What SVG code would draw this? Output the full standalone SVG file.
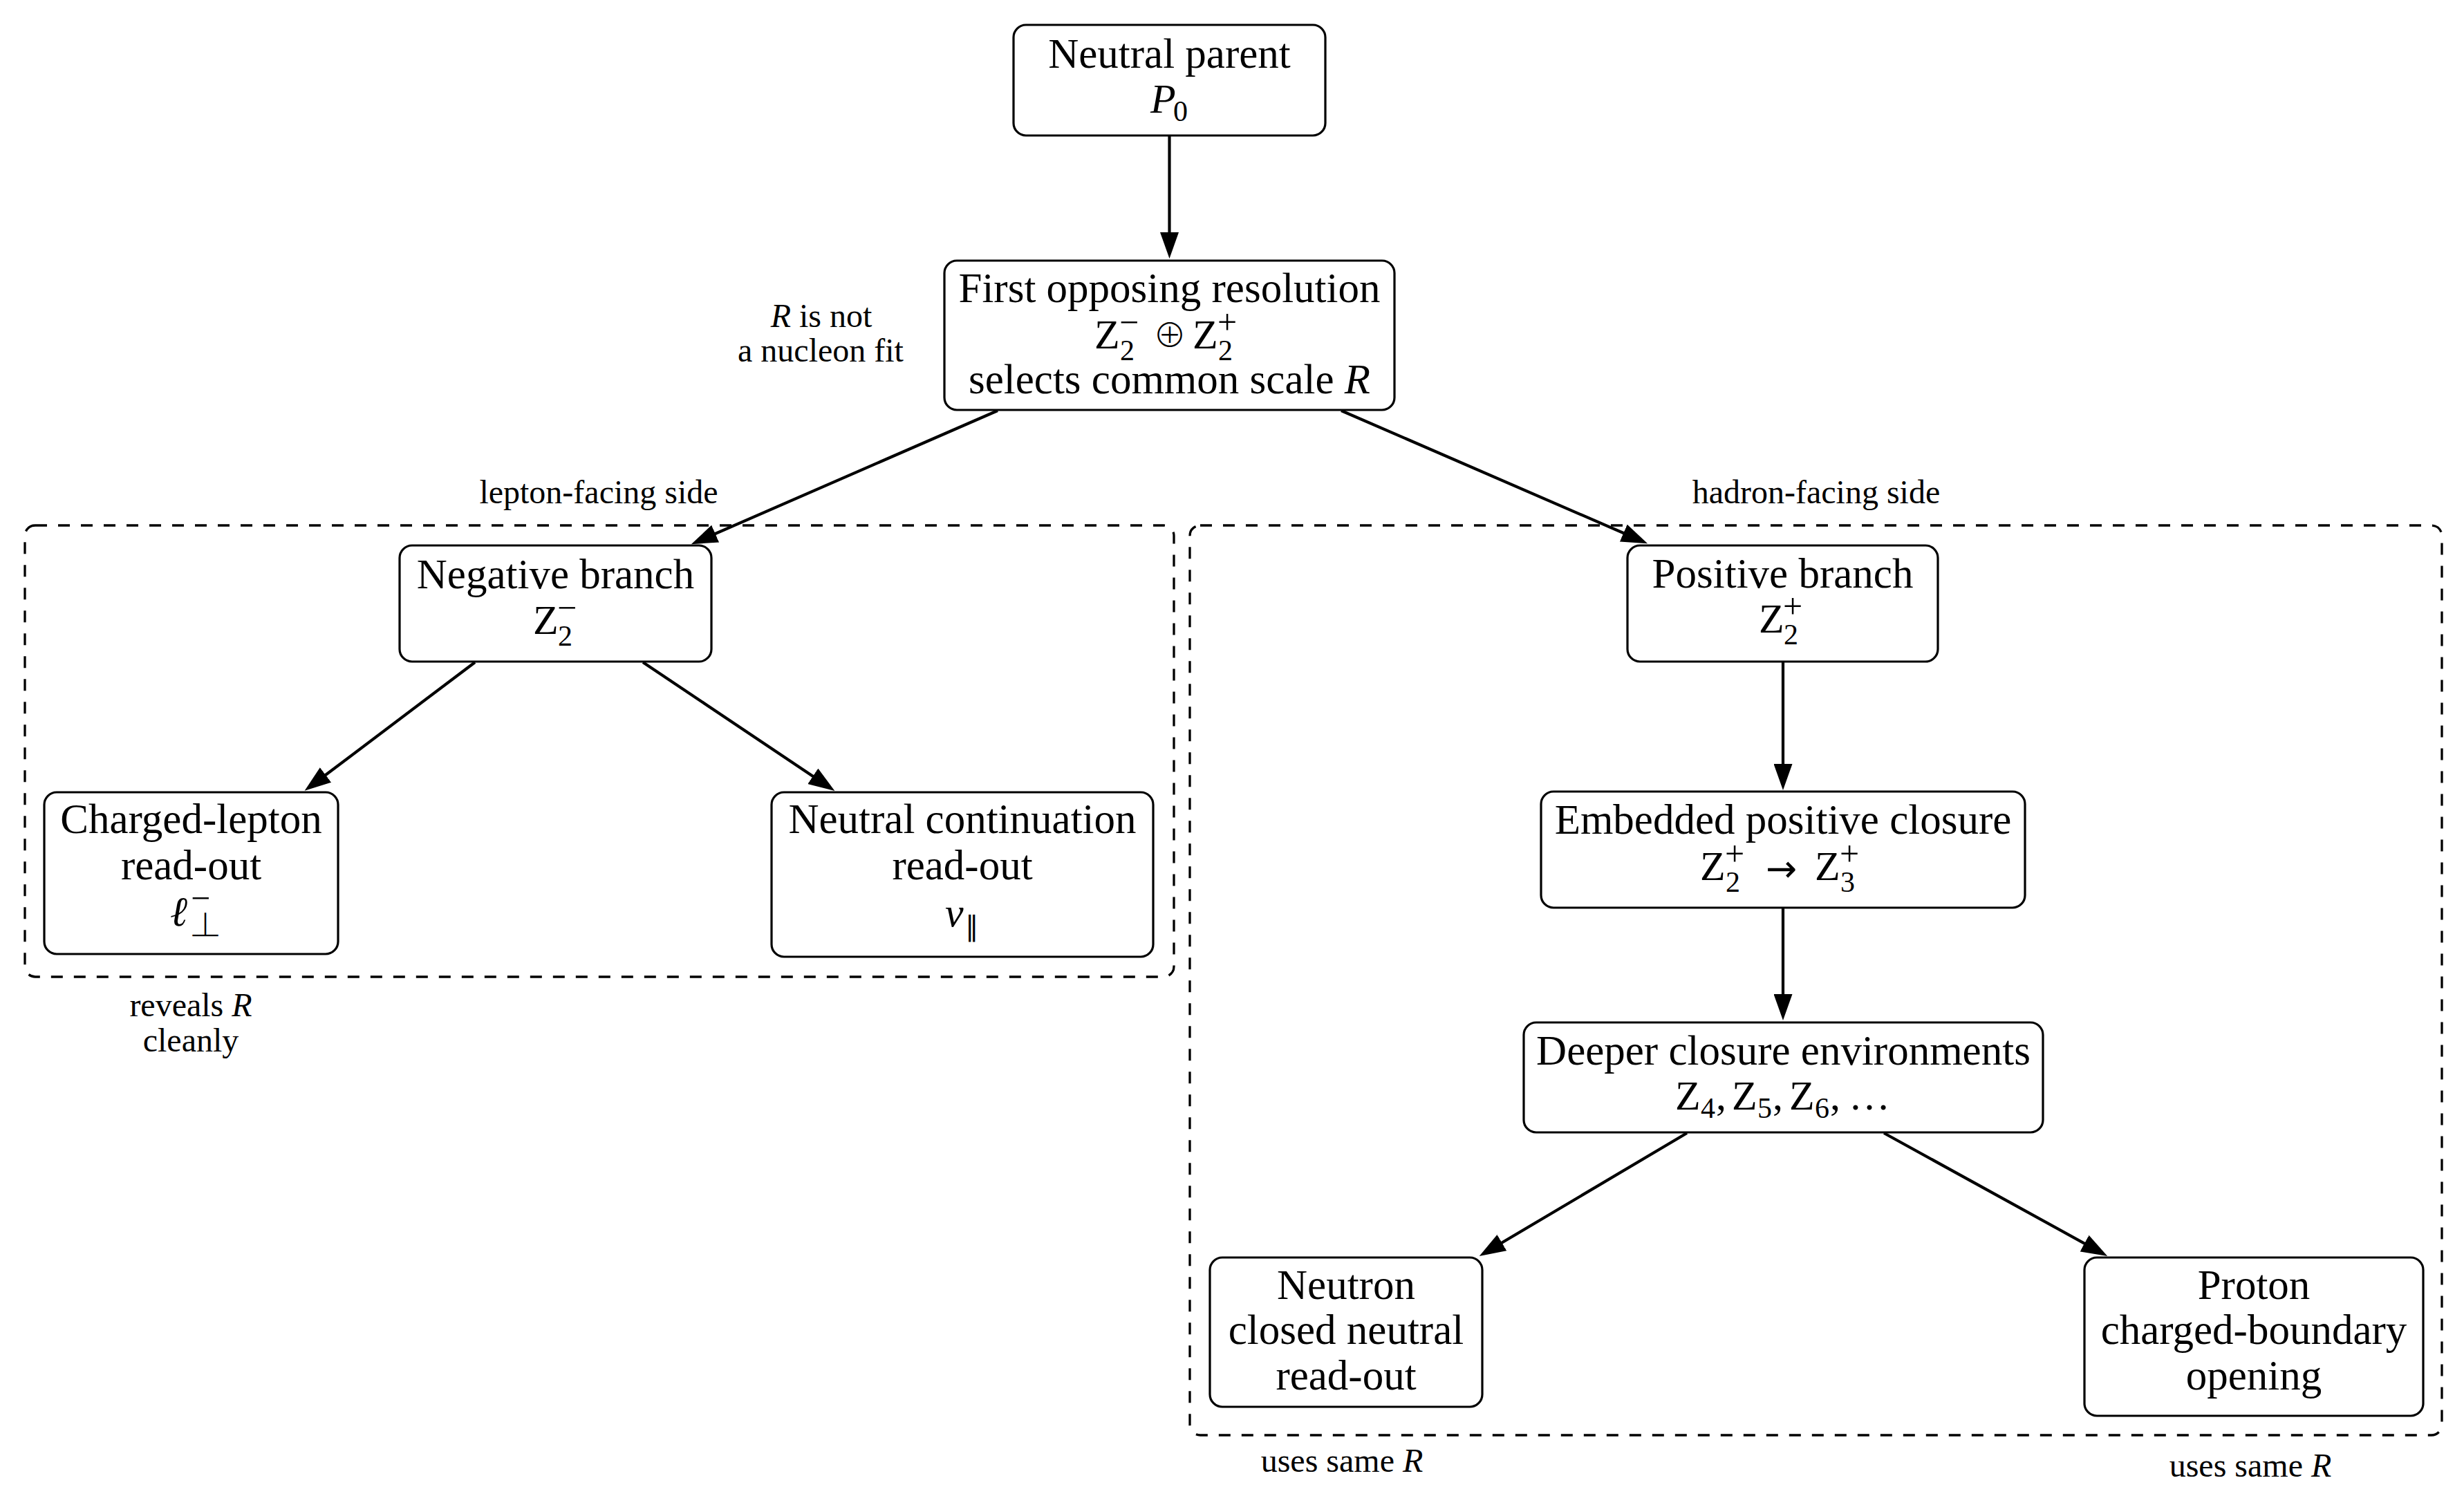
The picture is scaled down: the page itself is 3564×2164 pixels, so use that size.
<svg xmlns="http://www.w3.org/2000/svg" width="3564" height="2164" viewBox="0 0 3564 2164">
<style>
  text { font-family: "Liberation Serif", "DejaVu Serif", serif; fill: #000; }
  .t { font-size: 61px; text-anchor: middle; }
  .m { font-size: 60px; }
  .s { font-size: 42px; }
  .p { font-size: 50px; }
  .ss { font-size: 38px; }
  .op { font-family: "Noto Sans CJK SC", "DejaVu Sans", sans-serif; font-weight: 300; font-size: 48px; }
  .par { font-family: "DejaVu Sans", sans-serif; font-size: 40px; }
  .ar { font-family: "DejaVu Sans", sans-serif; font-size: 54px; }
  .it { font-style: italic; }
  .a { font-size: 48px; text-anchor: middle; }
  .box { fill: #fff; stroke: #000; stroke-width: 3.2; }
  .grp { fill: none; stroke: #000; stroke-width: 3.3; stroke-dasharray: 17 16; }
  .edge { fill: none; stroke: #000; stroke-width: 4.2; marker-end: url(#arr); }
</style>
<defs>
  <marker id="arr" markerUnits="userSpaceOnUse" viewBox="0 0 38 27" markerWidth="38" markerHeight="27" refX="20" refY="13.5" orient="auto">
    <path d="M0,0 L38,13.5 L0,27 Z" fill="#000"/>
  </marker>
</defs>
<rect x="0" y="0" width="3564" height="2164" fill="#fff"/>

<g id="group-lepton">
  <rect class="grp" x="36" y="760" width="1662" height="653" rx="15"/>
</g>
<g id="group-hadron">
  <rect class="grp" x="1721" y="760" width="1811" height="1316" rx="15"/>
</g>

<g id="connectors">
  <path class="edge" d="M1691.5,196 L1691.5,356"/>
  <path class="edge" d="M1443,594 L1016.3,780"/>
  <path class="edge" d="M1940,594 L2366.6,779"/>
  <path class="edge" d="M687,958 L455,1133"/>
  <path class="edge" d="M930,958 L1192.4,1133.9"/>
  <path class="edge" d="M2579,957 L2579,1125"/>
  <path class="edge" d="M2579,1313 L2579,1458"/>
  <path class="edge" d="M2440,1639 L2155.2,1807.8"/>
  <path class="edge" d="M2725,1639 L3032.5,1808.3"/>
</g>

<g id="node-neutral-parent">
  <rect class="box" x="1466" y="36" width="451" height="160" rx="18"/>
  <text class="t" x="1691.5" y="98">Neutral parent</text>
  <text class="m"><tspan class="it" x="1664" y="163">P</tspan><tspan class="s" x="1697" y="175">0</tspan></text>
</g>

<g id="node-first-resolution">
  <rect class="box" x="1366" y="377" width="651" height="216" rx="18"/>
  <text class="t" x="1691.5" y="437">First opposing resolution</text>
  <text class="m"><tspan x="1583" y="504">Z</tspan><tspan class="s" x="1620" y="521">2</tspan><tspan class="p" x="1619" y="483">−</tspan><tspan class="op" x="1668" y="502">⊕</tspan><tspan x="1725" y="504">Z</tspan><tspan class="s" x="1762" y="521">2</tspan><tspan class="p" x="1761" y="483">+</tspan></text>
  <text class="t" x="1691.5" y="569">selects common scale <tspan class="it">R</tspan></text>
</g>

<g id="node-negative-branch">
  <rect class="box" x="578" y="789" width="451" height="168" rx="18"/>
  <text class="t" x="803.5" y="851">Negative branch</text>
  <text class="m"><tspan x="771" y="917">Z</tspan><tspan class="s" x="807" y="934">2</tspan><tspan class="p" x="806" y="896">−</tspan></text>
</g>

<g id="node-charged-lepton">
  <rect class="box" x="64" y="1146" width="425" height="234" rx="18"/>
  <text class="t" x="276.5" y="1205">Charged-lepton</text>
  <text class="t" x="276.5" y="1272">read-out</text>
  <text class="m"><tspan class="it" x="246" y="1339">ℓ</tspan><tspan class="ss op" x="273" y="1356">⊥</tspan><tspan class="p" x="276" y="1316">−</tspan></text>
</g>

<g id="node-neutral-continuation">
  <rect class="box" x="1116" y="1146" width="552" height="238" rx="18"/>
  <text class="t" x="1392" y="1205">Neutral continuation</text>
  <text class="t" x="1392" y="1272">read-out</text>
  <text class="m"><tspan class="it" x="1367" y="1340">ν</tspan><tspan class="par" x="1396" y="1354">∥</tspan></text>
</g>

<g id="node-positive-branch">
  <rect class="box" x="2354" y="789" width="449" height="168" rx="18"/>
  <text class="t" x="2578.5" y="850">Positive branch</text>
  <text class="m"><tspan x="2544" y="915">Z</tspan><tspan class="s" x="2580" y="932">2</tspan><tspan class="p" x="2579" y="894">+</tspan></text>
</g>

<g id="node-embedded-closure">
  <rect class="box" x="2229" y="1145" width="700" height="168" rx="18"/>
  <text class="t" x="2579" y="1206">Embedded positive closure</text>
  <text class="m"><tspan x="2459" y="1273">Z</tspan><tspan class="s" x="2496" y="1290">2</tspan><tspan class="p" x="2495" y="1252">+</tspan><tspan class="ar" x="2554" y="1275">→</tspan><tspan x="2625" y="1273">Z</tspan><tspan class="s" x="2662" y="1290">3</tspan><tspan class="p" x="2661" y="1252">+</tspan></text>
</g>

<g id="node-deeper-closure">
  <rect class="box" x="2204" y="1479" width="751" height="159" rx="18"/>
  <text class="t" x="2579.5" y="1540">Deeper closure environments</text>
  <text class="m"><tspan x="2423" y="1605">Z</tspan><tspan class="s" x="2460" y="1617">4</tspan><tspan x="2482" y="1605">,</tspan><tspan x="2505" y="1605">Z</tspan><tspan class="s" x="2542" y="1617">5</tspan><tspan x="2564" y="1605">,</tspan><tspan x="2588" y="1605">Z</tspan><tspan class="s" x="2625" y="1617">6</tspan><tspan x="2647" y="1605">,</tspan><tspan x="2674" y="1605">…</tspan></text>
</g>

<g id="node-neutron">
  <rect class="box" x="1750" y="1819" width="394" height="216" rx="18"/>
  <text class="t" x="1947" y="1879">Neutron</text>
  <text class="t" x="1947" y="1944">closed neutral</text>
  <text class="t" x="1947" y="2010">read-out</text>
</g>

<g id="node-proton">
  <rect class="box" x="3015" y="1819" width="490" height="229" rx="18"/>
  <text class="t" x="3260" y="1879">Proton</text>
  <text class="t" x="3260" y="1944">charged-boundary</text>
  <text class="t" x="3260" y="2010">opening</text>
</g>

<g id="labels">
  <text class="a" x="1188" y="473"><tspan class="it">R</tspan> is not</text>
  <text class="a" x="1187" y="523">a nucleon fit</text>
  <text class="a" x="866" y="728">lepton-facing side</text>
  <text class="a" x="2627" y="728">hadron-facing side</text>
  <text class="a" x="276" y="1470">reveals <tspan class="it">R</tspan></text>
  <text class="a" x="276" y="1521">cleanly</text>
  <text class="a" x="1941" y="2129">uses same <tspan class="it">R</tspan></text>
  <text class="a" x="3255" y="2136">uses same <tspan class="it">R</tspan></text>
</g>
</svg>
